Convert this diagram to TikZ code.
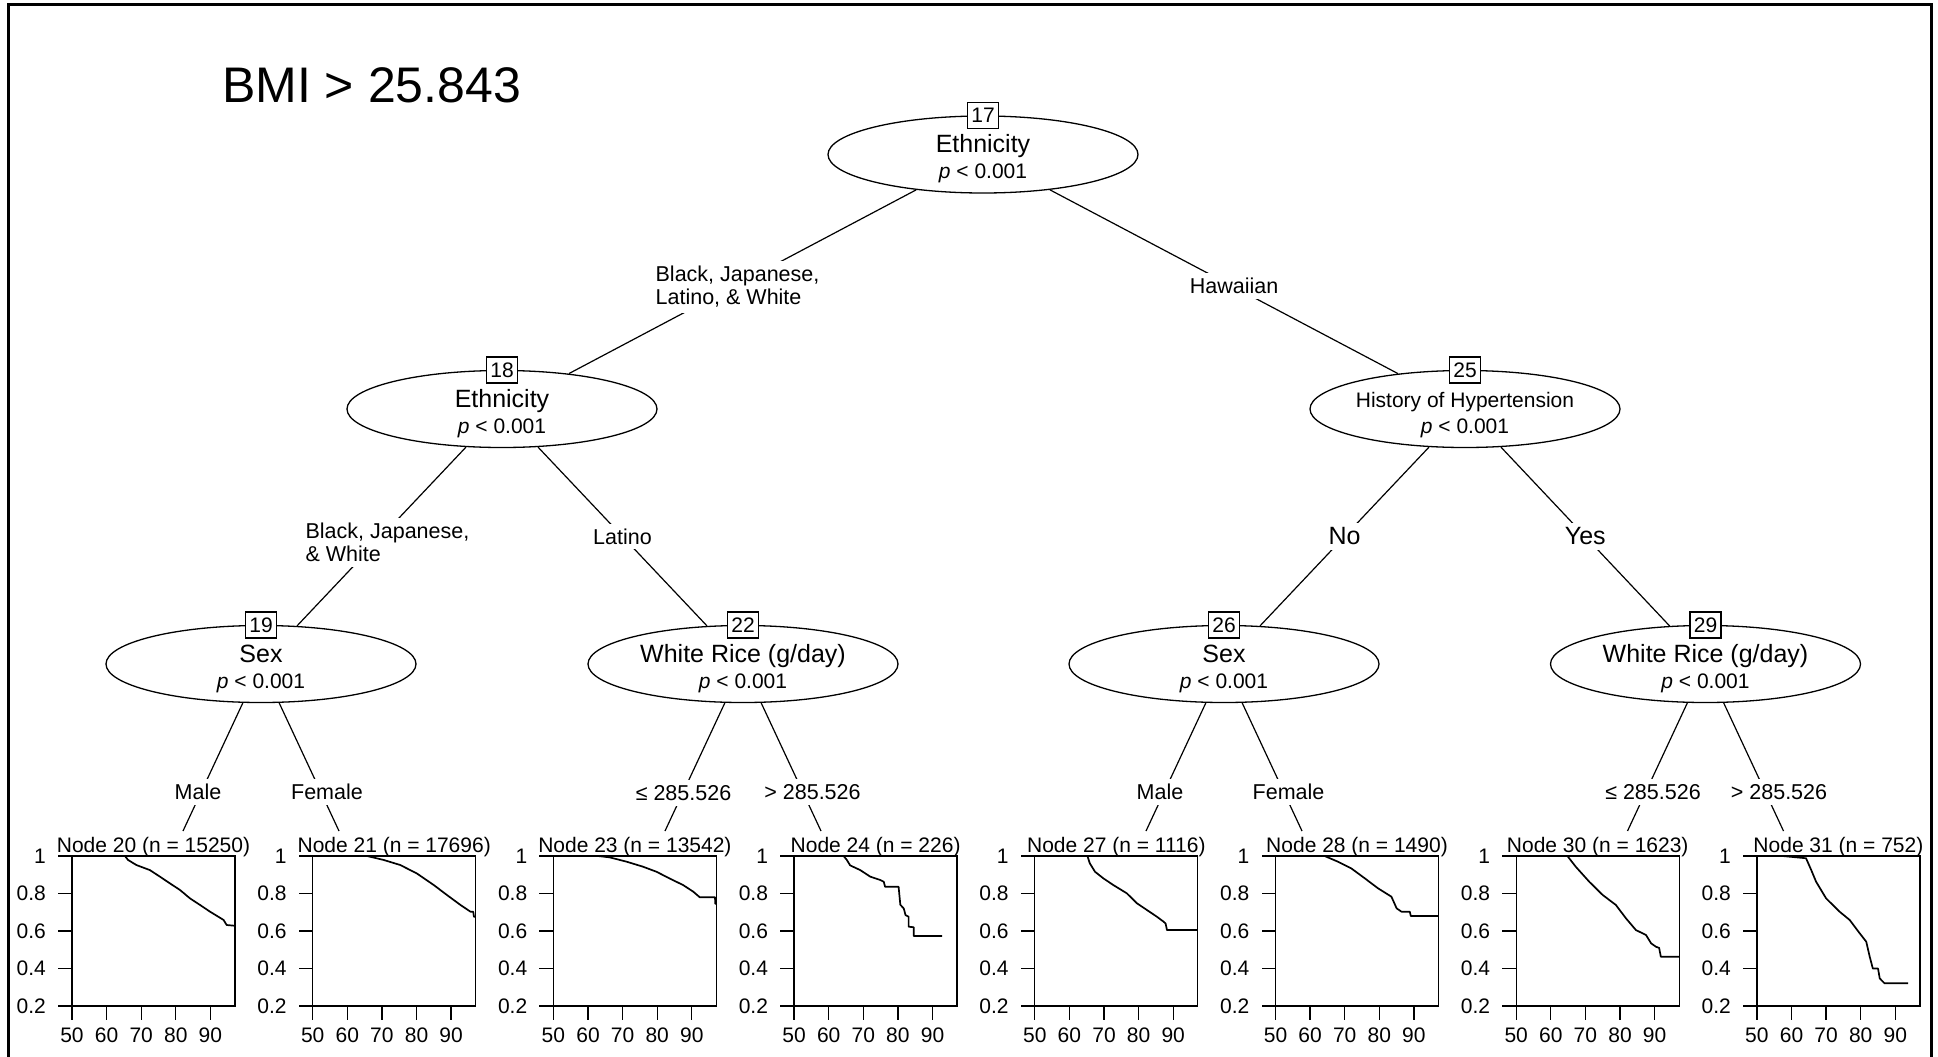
\documentclass[tikz,border=0pt]{standalone}
\usepackage{fontspec}
\setmainfont{Liberation Sans}
\usetikzlibrary{shapes.geometric}

\tikzset{
  frameline/.style={line width=3pt, line join=miter},
  innernode/.style={ellipse, draw, line width=1.3pt, minimum width=310pt, minimum height=77pt, inner sep=0pt},
  numbox/.style={draw, fill=white, line width=1.3pt, minimum width=31pt, minimum height=26pt, inner sep=0pt, font=\fontsize{21}{23}\selectfont},
  edge/.style={line width=1.2pt},
  elabel/.style={fill=white, inner sep=5pt, font=\fontsize{21.5}{23.5}\selectfont, align=left},
  biglabel/.style={fill=white, inner sep=5pt, font=\fontsize{25}{27}\selectfont},
  bigtitle/.style={font=\fontsize{25}{27}\selectfont, inner sep=0pt},
  smalltitle/.style={font=\fontsize{21}{23}\selectfont, inner sep=0pt},
  pfont/.style={font=\fontsize{21}{23}\selectfont, inner sep=0pt},
  leaffont/.style={font=\fontsize{21}{23}\selectfont, inner sep=0pt},
  axisline/.style={line width=1.3pt},
  km/.style={line width=1.7pt, line join=round},
}

% name, x, y, number, title, title style
\newcommand{\splitnode}[6]{%
  \node[innernode] (#1) at (#2,#3) {};
  \node[anchor=base, #6] (#1t) at (#2,#3-2) {#5};
  \node[anchor=base, pfont] (#1p) at (#2,#3+24) {\textit{p} < 0.001};
  \node[numbox] (#1n) at (#1.north) {#4};
}

% left, node number, n, curve
\newcommand{\leafpanel}[4]{%
  \begin{scope}[shift={(#1pt-173pt,-1043.5pt)}, x=3.46pt, y=187.5pt]
    \draw[axisline] (50,0.2) rectangle (97.11,1);
    \foreach \v/\k in {0.2/a,0.4/b,0.6/c,0.8/d,1/e} {
      \draw[axisline] (50,\v) -- (45.95,\v);
      \node[leaffont, anchor=east] (yl#2\k) at (42.5,\v) {\v};
    }
    \foreach \a in {50,60,70,80,90} {
      \draw[axisline] (\a,0.2) -- (\a,0.1253);
      \node[leaffont, anchor=base] (xl#2\a) at (\a,0.008) {\a};
    }
    \node[leaffont, anchor=base] (leaf#2) at (73.555,1.0213) {Node #2 (n = #3)};
    \draw[km] plot coordinates {#4};
  \end{scope}
}

\begin{document}
\begin{tikzpicture}[x=1pt, y=-1pt]
\useasboundingbox (0,0) rectangle (1938,1057);
\draw[frameline] (8,1057) -- (8,5) -- (1931,5) -- (1931,1057);

\node[anchor=base west, font=\fontsize{50}{55}\selectfont, inner sep=0pt] (title) at (222,102) {BMI > 25.843};

% inner nodes
\splitnode{n17}{983}{154.5}{17}{Ethnicity}{bigtitle}
\splitnode{n18}{502}{409}{18}{Ethnicity}{bigtitle}
\splitnode{n25}{1465}{409}{25}{History of Hypertension}{smalltitle}
\splitnode{n19}{261}{664}{19}{Sex}{bigtitle}
\splitnode{n22}{743}{664}{22}{White Rice (g/day)}{bigtitle}
\splitnode{n26}{1224}{664}{26}{Sex}{bigtitle}
\splitnode{n29}{1705.5}{664}{29}{White Rice (g/day)}{bigtitle}

% inner edges
\draw[edge] (n17) -- node[elabel, xshift=-5pt, yshift=-5pt] (e18) {Black, Japanese,\\Latino, \& White} (n18);
\draw[edge] (n17) -- node[elabel, xshift=10pt, yshift=-4pt] (e25) {Hawaiian} (n25);
\draw[edge] (n18) -- node[elabel, xshift=6pt, yshift=-6pt] (e19) {Black, Japanese,\\\& White} (n19);
\draw[edge] (n18) -- node[elabel] (e22) {Latino} (n22);
\draw[edge] (n25) -- node[biglabel] (e26) {No} (n26);
\draw[edge] (n25) -- node[biglabel] (e29) {Yes} (n29);

% leaf connectors
\coordinate (t20) at (183,831);
\coordinate (t21) at (339,831);
\coordinate (t23) at (665,831);
\coordinate (t24) at (821,831);
\coordinate (t27) at (1146,831);
\coordinate (t28) at (1302,831);
\coordinate (t30) at (1627.5,831);
\coordinate (t31) at (1783.5,831);
\draw[edge] (n19) -- (t20);
\draw[edge] (n19) -- (t21);
\draw[edge] (n22) -- (t23);
\draw[edge] (n22) -- (t24);
\draw[edge] (n26) -- (t27);
\draw[edge] (n26) -- (t28);
\draw[edge] (n29) -- (t30);
\draw[edge] (n29) -- (t31);
\node[elabel] (e20) at (198,792) {Male};
\node[elabel] (e21) at (327,792) {Female};
\node[elabel] (e23) at (683.5,793) {≤ 285.526};
\node[elabel] (e24) at (812.5,792) {> 285.526};
\node[elabel] (e27) at (1160,792) {Male};
\node[elabel] (e28) at (1288.5,792) {Female};
\node[elabel] (e30) at (1653,792) {≤ 285.526};
\node[elabel] (e31) at (1779,792) {> 285.526};

% leaves
\leafpanel{72}{20}{15250}{(61,1) (65.3,1) (66.2,.979) (68.6,.952) (72.5,.925) (75.4,.89) (78.3,.854) (81.2,.819) (84.1,.774) (87,.739) (89.9,.703) (92.3,.676) (93.8,.659) (94.7,.632) (97.1,.628)}
\leafpanel{312.7}{21}{17696}{(61.8,1) (65.7,1) (70.5,.979) (75.3,.952) (80.1,.907) (85,.845) (88.8,.792) (92.7,.739) (95.6,.703) (96.4,.703) (96.6,.676) (97.1,.676)}
\leafpanel{553.4}{23}{13542}{(62.9,1) (66.2,.993) (71.1,.97) (75.9,.943) (79.8,.916) (83.6,.88) (87.5,.845) (90.4,.81) (92.3,.78) (96.7,.78) (96.8,.745) (97.1,.745)}
\leafpanel{794.1}{24}{226}{(61,1) (64.3,1) (65.2,.98) (66.2,.95) (69.1,.925) (72,.89) (74.9,.872) (75.9,.863) (76.3,.836) (80.2,.836) (80.7,.74) (81.7,.72) (82.2,.685) (83.1,.676) (83.1,.623) (84.6,.62) (84.6,.573) (92.8,.573)}
\leafpanel{1034.8}{27}{1116}{(61.6,1) (65.2,1) (65.9,.961) (67.4,.916) (69.8,.881) (72.7,.845) (76.6,.801) (79.5,.748) (82.4,.712) (85.3,.676) (87.2,.65) (87.8,.64) (88.2,.605) (97.1,.605)}
\leafpanel{1275.5}{28}{1490}{(59.2,1) (64.2,1) (68,.97) (71.9,.934) (75.8,.881) (79.6,.828) (83.5,.783) (85,.721) (86.4,.703) (88.8,.703) (89.1,.68) (97.1,.68)}
\leafpanel{1516.2}{30}{1623}{(57.3,1) (64.8,1) (67.2,.943) (71.1,.863) (75,.792) (78.8,.739) (81.7,.668) (84.6,.605) (87.5,.579) (89,.534) (90.4,.516) (91.3,.51) (91.8,.463) (97.1,.463)}
\leafpanel{1756.9}{31}{752}{(57.4,1) (64.2,.988) (65.7,.925) (67.1,.863) (70,.774) (73.9,.703) (76.8,.659) (79.7,.588) (81.6,.543) (82.6,.463) (83.5,.4) (85,.4) (85.5,.347) (86.9,.321) (93.7,.321)}
\end{tikzpicture}
\end{document}
